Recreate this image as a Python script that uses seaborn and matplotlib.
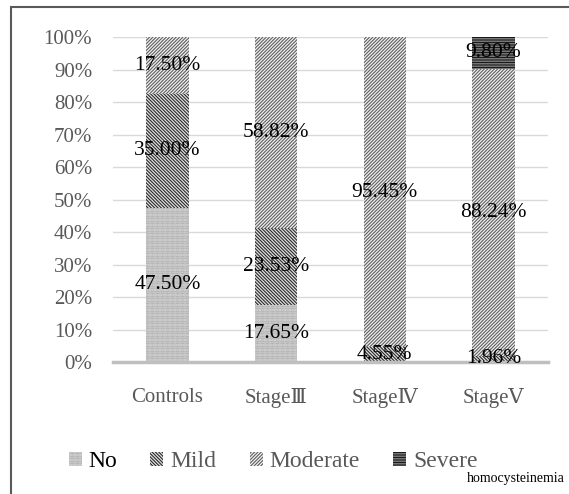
import numpy as np
import pandas as pd
import matplotlib
matplotlib.use("Agg")
from matplotlib import pyplot as plt
from matplotlib.patches import Rectangle, Patch
import seaborn as sns

groups = ["Controls", "Stage\u2162", "Stage\u2163", "Stage\u2164"]
no = [47.50, 17.65, 0.0, 0.0]
mild = [35.00, 23.53, 4.55, 1.96]
moderate = [17.50, 58.82, 95.45, 88.24]
severe = [0.0, 0.0, 0.0, 9.80]
levels = ["No", "Mild", "Moderate", "Severe"]

sns.set_theme(style="white")
plt.rcParams["font.family"] = ["Liberation Serif", "DejaVu Serif"]
plt.rcParams["hatch.linewidth"] = 0.8

df = pd.DataFrame({"group": groups, "No": no, "Mild": mild,
                   "Moderate": moderate, "Severe": severe})
cum = df[levels].cumsum(axis=1)

styles = {
    "No": dict(color="#f0f0f0", hatch="." * 10, edgecolor="#8c8c8c"),
    "Mild": dict(color="#e0e0e0", hatch="\\" * 10, edgecolor="#2a2a2a"),
    "Moderate": dict(color="#f2f2f2", hatch="/" * 10, edgecolor="#5e5e5e"),
    "Severe": dict(color="#bfbfbf", hatch="-" * 10, edgecolor="#1a1a1a"),
}

fig = plt.figure(figsize=(5.69, 4.94), dpi=100)
ax = fig.add_axes([0.1986, 0.267, 0.7644, 0.658])

# layered stacking: draw cumulative totals from the top level down
for lev in reversed(levels):
    st = styles[lev]
    sns.barplot(x=df["group"], y=cum[lev], color=st["color"], hatch=st["hatch"],
                edgecolor=st["edgecolor"], linewidth=0, width=0.39,
                saturation=1, errorbar=None, ax=ax)

# data labels
for i in range(len(groups)):
    base = 0
    for lev in levels:
        v = df[lev].iloc[i]
        if v > 0:
            ax.text(i, base + v / 2, f"{v:.2f}%", ha="center", va="center",
                    fontsize=15.5, color="black")
        base += v

ax.set_ylim(0, 100)
ax.set_yticks(np.arange(0, 101, 10))
ax.set_yticklabels([f"{t}%" for t in range(0, 101, 10)])
ax.yaxis.grid(True, color="#d9d9d9", linewidth=1)
ax.set_axisbelow(True)
ax.set_xlabel("")
ax.set_ylabel("")
for s in ["top", "right", "left"]:
    ax.spines[s].set_visible(False)
ax.spines["bottom"].set_color("#bfbfbf")
ax.spines["bottom"].set_linewidth(2.5)
ax.tick_params(axis="y", length=0, pad=15, labelsize=15, labelcolor="#595959")
ax.tick_params(axis="x", length=0, pad=19, labelsize=15, labelcolor="#595959")

handles = [Patch(facecolor=styles[l]["color"], hatch=styles[l]["hatch"],
                 edgecolor=styles[l]["edgecolor"], linewidth=0) for l in levels]
leg = fig.legend(handles, levels, loc="center", bbox_to_anchor=(0.48, 0.065),
                 ncol=4, frameon=False,
                 prop={"family": ["Liberation Serif", "DejaVu Serif"], "size": 17},
                 handlelength=0.55, handleheight=0.55, handletextpad=0.3,
                 columnspacing=1.4)
for t in leg.get_texts():
    t.set_color("#595959")
leg.get_texts()[0].set_color("black")

fig.text(0.993, 0.032, "homocysteinemia", ha="right", va="center",
         fontsize=10, color="black")

fig.patches.append(Rectangle((11 / 569, -0.1), 1.2, 1.1 - 7 / 494,
                             transform=fig.transFigure, fill=False,
                             edgecolor="#595959", linewidth=1.5))

fig.savefig("out.png", dpi=100)
